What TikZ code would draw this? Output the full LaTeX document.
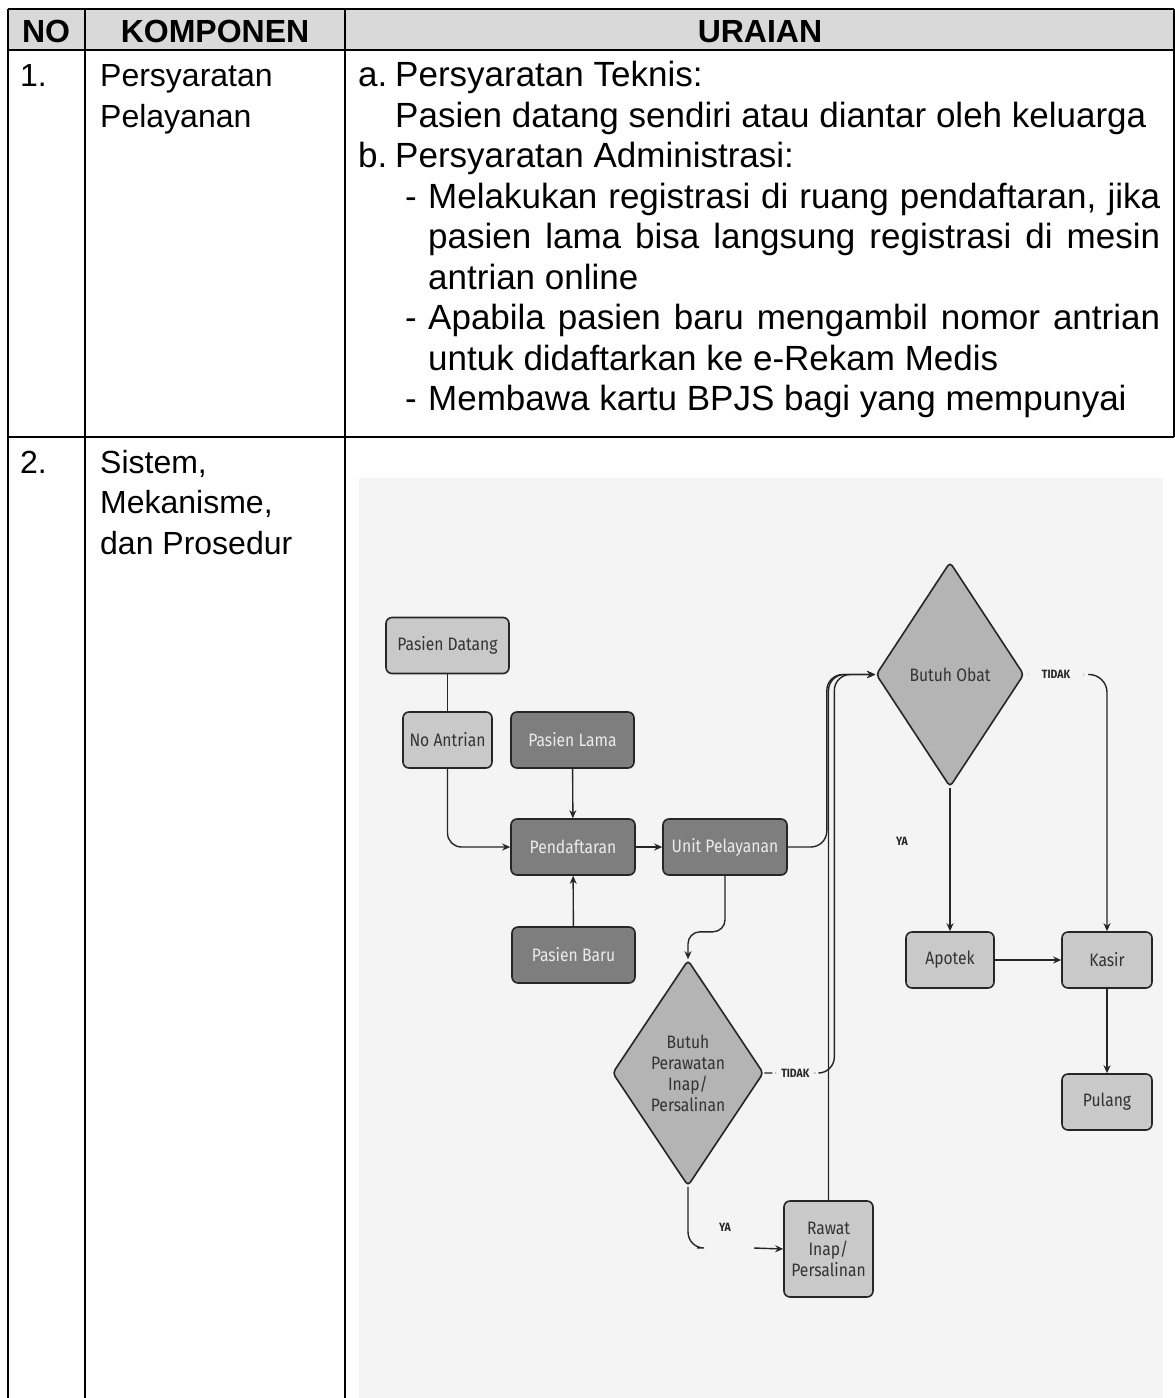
\documentclass[tikz,border=0pt]{standalone}
\usepackage{fontspec}
\setmainfont{Liberation Sans}
\newfontfamily\flowfont[FakeStretch=0.87]{Fira Sans}
\usetikzlibrary{shapes.geometric,arrows.meta,positioning}

\definecolor{hdrgrey}{HTML}{D9D9D9}
\definecolor{flowbg}{HTML}{F4F4F4}
\definecolor{lightfill}{HTML}{C9C9C9}
\definecolor{darkfill}{HTML}{7E7E7E}
\definecolor{decfill}{HTML}{B4B4B4}

\tikzset{
	hdr/.style={font=\fontsize{32}{38}\selectfont\bfseries, anchor=base, inner sep=0pt},
	txt/.style={font=\fontsize{32}{40}\selectfont, anchor=base west, inner sep=0pt},
	uraian/.style={txt, font=\fontsize{35}{40}\selectfont},
	grid/.style={line width=2pt},
	box/.style={rectangle, rounded corners=6pt, draw=black!85, line width=1.6pt,
		minimum height=56pt, align=center, text=black!80,
		font=\flowfont\fontsize{18}{21}\selectfont},
	lightbox/.style={box, fill=lightfill},
	darkbox/.style={box, fill=darkfill, text=white!92!black},
	decision/.style={diamond, draw=black!85, line width=1.6pt, fill=decfill,
		minimum width=150pt, minimum height=226pt, inner sep=0pt, align=center,
		rounded corners=4pt, text=black!80, font=\flowfont\fontsize{18}{21}\selectfont},
	link/.style={line width=1.4pt, draw=black!85},
	flow/.style={link, -{Stealth[length=8pt,width=7pt]}},
	lbl/.style={font=\flowfont\bfseries\fontsize{12}{14}\selectfont, fill=flowbg, inner sep=2pt, text=black!85}
}

\begin{document}
\begin{tikzpicture}[x=1pt, y=-1pt]
	\useasboundingbox (0,0) rectangle (1175,1398);
	% table frame
	\fill[hdrgrey] (8,9) rectangle (1174,50);
	\fill[flowbg] (359,478) rectangle (1163,1398);
	\draw[grid] (8,9) -- (1174,9);
	\draw[grid] (8,50) -- (1174,50);
	\draw[grid] (8,437) -- (1174,437);
	\draw[grid] (8,9) -- (8,1398);
	\draw[grid] (85,9) -- (85,1398);
	\draw[grid] (345,9) -- (345,1398);
	\draw[grid] (1174,9) -- (1174,437);

	\node[hdr] (hNo) at (46,42) {NO};
	\node[hdr] (hKomp) at (215,42) {KOMPONEN};
	\node[hdr] (hUraian) at (760,42) {URAIAN};

	% row 1
	\node[txt] (n1) at (20,86.5) {1.};
	\node[txt] (k1a) at (100,86.5) {Persyaratan};
	\node[txt] (k1b) at (100,127) {Pelayanan};
	\node[uraian] (ua) at (358,86.5) {a.};
	\node[uraian] (ua1) at (395,86.5) {Persyaratan Teknis:};
	\node[uraian] (ua2) at (395,127) {Pasien datang sendiri atau diantar oleh keluarga};
	\node[uraian] (ub) at (358,167.5) {b.};
	\node[uraian] (ub1) at (395,167.5) {Persyaratan Administrasi:};
	\node[uraian] (d1) at (405,208) {-};
	\node[uraian] (ub2) at (428,208) {\makebox[732pt][s]{Melakukan registrasi di ruang pendaftaran, jika}};
	\node[uraian] (ub3) at (428,248.5) {\makebox[732pt][s]{pasien lama bisa langsung registrasi di mesin}};
	\node[uraian] (ub4) at (428,289) {antrian online};
	\node[uraian] (d2) at (405,329.5) {-};
	\node[uraian] (ub5) at (428,329.5) {\makebox[732pt][s]{Apabila pasien baru mengambil nomor antrian}};
	\node[uraian] (ub6) at (428,370) {untuk didaftarkan ke e-Rekam Medis};
	\node[uraian] (d3) at (405,410.5) {-};
	\node[uraian] (ub7) at (428,410.5) {Membawa kartu BPJS bagi yang mempunyai};

	% row 2
	\node[txt] (n2) at (20,473) {2.};
	\node[txt] (k2a) at (100,473) {Sistem,};
	\node[txt] (k2b) at (100,513.5) {Mekanisme,};
	\node[txt] (k2c) at (100,554) {dan Prosedur};

	% flowchart
	\node[lightbox, minimum width=123pt] (datang) at (447.5,645.5) {Pasien Datang};
	\node[lightbox, minimum width=89pt] (antrian) at (447.5,740) {No Antrian};
	\node[darkbox, minimum width=123pt] (lama) at (572.5,740) {Pasien Lama};
	\node[darkbox, minimum width=124pt] (daftar) at (573,847) {Pendaftaran};
	\node[darkbox, minimum width=124pt] (unit) at (725,847) {Unit Pelayanan};
	\node[darkbox, minimum width=123pt] (baru) at (573.5,955) {Pasien Baru};
	\node[decision] (inap) at (688,1073) {Butuh\\Perawatan\\Inap/\\Persalinan};
	\node[lightbox, minimum width=89pt, minimum height=96pt] (rawat) at (828.5,1249) {Rawat\\Inap/\\Persalinan};
	\node[decision, minimum width=148pt, minimum height=225pt] (obat) at (950,674.5) {Butuh Obat};
	\node[lightbox, minimum width=88pt] (apotek) at (950,960) {Apotek};
	\node[lightbox, minimum width=90pt] (kasir) at (1107,960) {Kasir};
	\node[lightbox, minimum width=90pt] (pulang) at (1107,1102) {Pulang};

	\coordinate (yaL) at (697,1248);
	\coordinate (yaR) at (754,1248);

	\draw[link] (datang) -- (antrian);
	\draw[flow, rounded corners=14pt] (antrian.south) |- (daftar.west);
	\draw[flow] (lama) -- (daftar);
	\draw[flow] (baru) -- (daftar);
	\draw[flow] (daftar) -- (unit);
	\draw[flow, rounded corners=16pt] (unit.east) -- ++(39,0) |- (obat.west);
	\draw[flow, rounded corners=12pt] (unit.south) -- ++(0,56) -| (inap.north);
	\draw[flow, rounded corners=16pt] (inap.east) -- node[lbl, inner xsep=9pt, xshift=-4pt] (tidak2) {TIDAK} ++(70,0) |- (obat.west);
	\draw[flow, rounded corners=16pt] (rawat.north) |- (obat.west);
	\draw[flow, rounded corners=18pt] (obat.east) -| node[lbl, pos=0.19, inner xsep=18pt] (tidak1) {TIDAK} (kasir.north);
	\draw[flow] (obat.south) -- (apotek.north);
	\draw[flow, line width=2.2pt] (apotek) -- (kasir);
	\draw[flow] (kasir) -- (pulang);
	\draw[link, rounded corners=16pt] (inap.south) |- (yaL);
	\draw[flow] (yaR) -- (rawat.west);

	\node[lbl] (ya1) at (902,841) {YA};
	\node[lbl] (ya2) at (725,1227) {YA};
\end{tikzpicture}
\end{document}
